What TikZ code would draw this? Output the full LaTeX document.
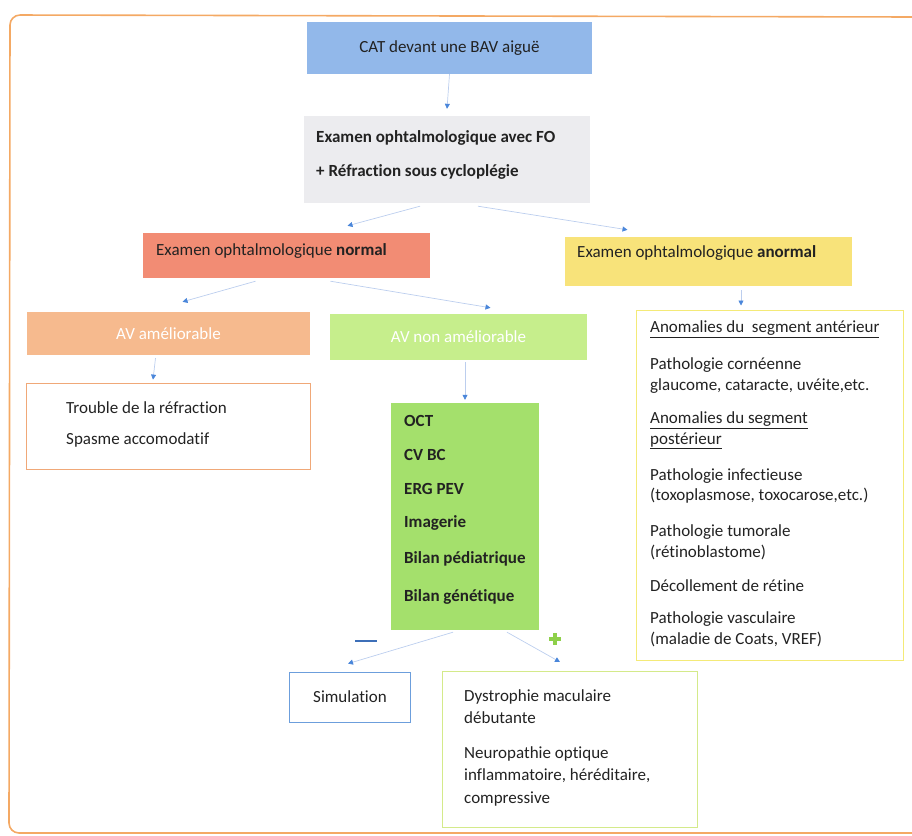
\documentclass[tikz,border=0pt]{standalone}
\usepackage{fontspec}
\setmainfont{Carlito}[Ligatures={NoCommon}]
\usetikzlibrary{arrows.meta,calc}
\definecolor{frameor}{HTML}{F4A964}
\definecolor{catblue}{HTML}{92B8EA}
\definecolor{examgray}{HTML}{ECECEF}
\definecolor{salmon}{HTML}{F28C74}
\definecolor{yel}{HTML}{F8E37A}
\definecolor{lorange}{HTML}{F6BA8E}
\definecolor{lgreen}{HTML}{C6EE8C}
\definecolor{bgreen}{HTML}{A4E06C}
\definecolor{troubleb}{HTML}{F0A878}
\definecolor{rightb}{HTML}{F4EA78}
\definecolor{simb}{HTML}{6C9EDC}
\definecolor{dysb}{HTML}{D4EA8A}
\definecolor{lineblue}{HTML}{BCCEEE}
\definecolor{headblue}{HTML}{4A86DA}
\definecolor{minusblue}{HTML}{3D6FB8}
\definecolor{plusgreen}{HTML}{8ED04A}
\definecolor{txt}{HTML}{222222}
\begin{document}
\begin{tikzpicture}[x=1pt,y=-1pt,
  every node/.style={font=\fontsize{17}{21}\selectfont, text=txt},
  box/.style={rectangle, inner sep=0pt, draw=none},
  lbl/.style={anchor=west, inner sep=0pt},
  arr/.style={draw=lineblue, line width=0.7pt, -{Triangle[width=5pt,length=5pt,color=headblue]}}
]
\useasboundingbox (0,0) rectangle (912,835);
% outer frame
\draw[frameor, line width=1.6pt, rounded corners=10pt] (914,17) -- (10,15) -- (9,833) -- (914,833);

% boxes
\node[box, fill=catblue, minimum width=285pt, minimum height=52pt] (cat) at (449.5,48) {CAT devant une BAV aiguë};
\node[box, fill=examgray, minimum width=286pt, minimum height=87pt] (exam) at (447,159.5) {};
\node[lbl, font=\fontsize{17}{21}\selectfont\bfseries] (ex1) at (316,138) {Examen ophtalmologique avec FO};
\node[lbl, font=\fontsize{17}{21}\selectfont\bfseries] (ex2) at (316,172) {+ Réfraction sous cycloplégie};

\node[box, fill=salmon, minimum width=287pt, minimum height=45pt] (normal) at (286.5,255.5) {};
\node[lbl] (normalt) at (156,251) {Examen ophtalmologique \textbf{normal}};
\node[box, fill=yel, minimum width=287pt, minimum height=49pt] (anormal) at (708.5,261.5) {};
\node[lbl] (anormalt) at (577,253) {Examen ophtalmologique \textbf{anormal}};

\node[box, fill=lorange, minimum width=283pt, minimum height=43pt, text=white] (avam) at (168.5,333.5) {AV améliorable};
\node[box, fill=lgreen, minimum width=257pt, minimum height=46pt, text=white] (avnon) at (458.5,337) {AV non améliorable};

\node[box, draw=troubleb, line width=0.8pt, minimum width=284pt, minimum height=86pt] (trouble) at (168,426) {};
\node[lbl] (tr1) at (66,408) {Trouble de la réfraction};
\node[lbl] (tr2) at (66,440) {Spasme accomodatif};

\node[box, fill=bgreen, minimum width=148pt, minimum height=227pt] (green) at (465,516.5) {};
\begin{scope}[every node/.append style={font=\fontsize{17}{21}\selectfont\bfseries}]
\node[lbl] (g1) at (404,421) {OCT};
\node[lbl] (g2) at (404,455) {CV BC};
\node[lbl] (g3) at (404,489) {ERG PEV};
\node[lbl] (g4) at (404,523) {Imagerie};
\node[lbl] (g5) at (404,559) {Bilan pédiatrique};
\node[lbl] (g6) at (404,597) {Bilan génétique};
\end{scope}

\node[box, draw=rightb, line width=1pt, minimum width=267pt, minimum height=350pt] (right) at (769.5,485) {};
\node[lbl] (r1) at (650,329) {\underline{Anomalies du\ \ segment antérieur}};
\node[lbl] (r2) at (650,365) {Pathologie cornéenne};
\node[lbl] (r3) at (650,386) {glaucome, cataracte, uvéite,etc.};
\node[lbl] (r4) at (650,420) {\underline{Anomalies du segment}};
\node[lbl] (r5) at (650,441) {\underline{postérieur}};
\node[lbl] (r6) at (650,476) {Pathologie infectieuse};
\node[lbl] (r7) at (650,496) {(toxoplasmose, toxocarose,etc.)};
\node[lbl] (r8) at (650,532) {Pathologie tumorale};
\node[lbl] (r9) at (650,552) {(rétinoblastome)};
\node[lbl] (r10) at (650,586) {Décollement de rétine};
\node[lbl] (r11) at (650,619) {Pathologie vasculaire};
\node[lbl] (r12) at (650,639) {(maladie de Coats, VREF)};

\node[box, draw=simb, line width=0.8pt, minimum width=121pt, minimum height=50pt] (sim) at (350,697) {Simulation};
\node[box, draw=dysb, line width=1pt, minimum width=255pt, minimum height=156pt] (dys) at (569.5,749.5) {};
\node[lbl] (d1) at (464,697) {Dystrophie maculaire};
\node[lbl] (d2) at (464,718) {débutante};
\node[lbl] (d3) at (464,754) {Neuropathie optique};
\node[lbl] (d4) at (464,776) {inflammatoire, héréditaire,};
\node[lbl] (d5) at (464,799) {compressive};

% minus / plus
\coordinate (mn) at (366,641);
\draw[minusblue, line width=2.4pt] ($(mn)+(-11,0)$) -- ($(mn)+(11,0)$);
\coordinate (pl) at (555,639);
\draw[plusgreen, line width=3.5pt] ($(pl)+(-6,0)$) -- ($(pl)+(6,0)$);
\draw[plusgreen, line width=3.5pt] ($(pl)+(0,-6)$) -- ($(pl)+(0,6)$);

% arrows
\draw[arr] (cat.south) -- ($(exam.north)+(0,-7)$);
\draw[arr] ($(exam.south)+(-27,3)$) -- ($(normal.north)+(61,-7)$);
\draw[arr] ($(exam.south)+(31,3)$) -- ($(anormal.north)+(-81,-7)$);
\draw[arr] ($(normal.south)+(-31,3)$) -- ($(avam.north)+(14,-10)$);
\draw[arr] ($(normal.south)+(44,3)$) -- ($(avnon.north)+(32,-6)$);
\draw[arr] ($(anormal.south)+(32.5,4)$) -- ($(right.north)+(-28.5,-4)$);
\draw[arr] ($(avam.south)+(-13,3)$) -- ($(trouble.north)+(-15,-3)$);
\draw[arr] ($(avnon.south)+(6.5,2)$) -- ($(green.north)+(0,-3)$);
\draw[arr] ($(green.south)+(-12,2)$) -- ($(sim.north)+(-2,-8)$);
\draw[arr] ($(green.south)+(42,2)$) -- ($(dys.north)+(-9.5,-9)$);
\end{tikzpicture}
\end{document}
